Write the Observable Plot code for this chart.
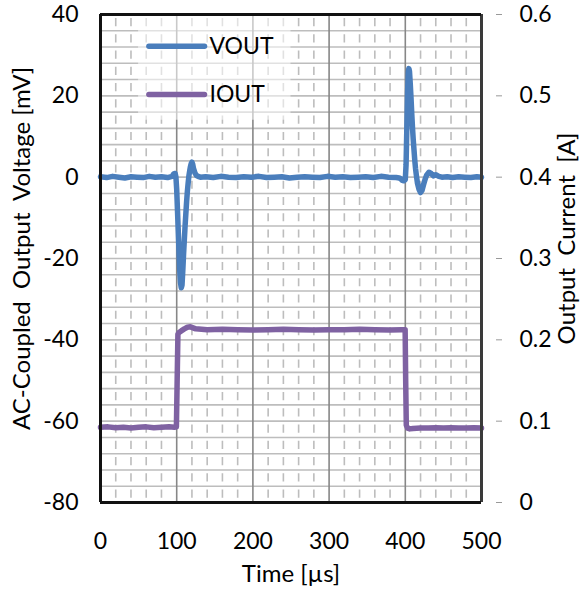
<!DOCTYPE html>
<html><head><meta charset="utf-8">
<script src="https://cdn.jsdelivr.net/npm/d3@7"></script>
<script src="https://cdn.jsdelivr.net/npm/@observablehq/plot@0.6"></script>
<style>body{margin:0;background:#fff;}</style>
</head><body><div id="chart"></div>
<script>
// ---- data ----
const voutTime = [0,8,16,24,32,40,48,56,64,72,80,88,94,
  96,98,99,100,101,102,103,104,105,106,107,108,109,110,111,112,113,114,115,116,117,118,119,120,121,122,124,126,128,131,
  138,148,158,168,178,188,198,208,218,228,238,248,258,268,278,288,298,308,318,328,338,348,358,368,378,388,392,
  394,396,398,400,401,402,403,404,404.7,405.5,406.5,407.5,408.5,409.5,410.5,411.5,412.5,413.5,414.5,416,418,420,422,424,426,428,431,434,437,440,444,448,
  455,462,470,478,486,494,500];
const voutMv = [0.1,-0.1,0.2,0,-0.2,0.1,0,-0.1,0.2,0,0.1,-0.1,0.2,
  0.8,0.9,0,-3,-8,-13,-18,-23,-26,-27.2,-26.5,-23,-19,-15.5,-12,-9,-6,-3.5,-1.5,0.3,1.5,2.6,3.3,3.7,3.2,2.2,1,0.4,0.2,0,
  0.1,-0.1,0.2,0,-0.1,0.1,0,0.2,-0.1,0,0.1,-0.2,0,0.1,0,-0.1,0.2,0,0.1,-0.1,0,0.1,-0.1,0.2,0,-0.1,-0.2,
  -0.4,-0.8,-0.9,-0.6,3,12,21,26,26.7,26,23,19.5,15.5,12,9,6.5,4,2,0.5,-1.5,-3,-3.8,-3.2,-1.8,-0.5,0.5,1.2,0.9,0.3,0.6,0.2,0,
  0.1,-0.1,0.1,0,-0.1,0.1,0];

const ioutTime = [0,10,20,30,40,50,60,70,80,90,97,99.6,100.6,101.6,103,106,110,114,118,125,
  140,160,180,200,220,240,260,280,300,320,340,360,380,395,399.8,400.5,401.3,403,406,410,420,430,440,450,460,470,480,490,500];
const ioutA = [0.0925,0.093,0.092,0.0925,0.0915,0.0925,0.093,0.092,0.0925,0.093,0.0925,0.093,0.15,0.207,0.209,0.211,0.2135,0.2155,0.216,0.2135,
  0.2125,0.213,0.2125,0.212,0.2125,0.213,0.2125,0.212,0.2125,0.2125,0.213,0.2125,0.212,0.2125,0.2125,0.15,0.095,0.0915,0.0905,0.091,0.0915,0.0915,0.092,0.0915,0.092,0.0915,0.0915,0.092,0.0915];

const xTicks = [0,100,200,300,400,500];
const yLeftTicks = [-80,-60,-40,-20,0,20,40];
const seriesNames = ["VOUT","IOUT"];
const seriesColors = ["#4a7ebc","#7f62a2"];

// right axis: current [A] maps onto left scale (mV): mV = A*200 - 80
const aToMv = a => a * 200 - 80;
const mvToA = mv => (mv + 80) / 200;

const vout = voutTime.map((t,i) => ({t, v: voutMv[i]}));
const iout = ioutTime.map((t,i) => ({t, v: aToMv(ioutA[i])}));

const hGrid = d3.range(-76, 40, 4);
const minorX = d3.range(20, 500, 20).filter(d => d % 100 !== 0);
const majorX = [100,200,300,400];

// legend layout (in data units of the plot)
const legend = seriesNames.map((name,i) => ({name, color: seriesColors[i], y: [32.2, 20.3][i]}));

const FS = 24, TFS = 23;
const chart = Plot.plot({
  width: 581, height: 598,
  marginLeft: 100, marginRight: 100, marginTop: 14, marginBottom: 96,
  style: {fontFamily: "Lato, 'Open Sans', sans-serif", fontSize: FS + "px", color: "#000", background: "#fff"},
  x: {domain: [0,500]},
  y: {domain: [-80,40]},
  marks: [
    Plot.ruleY(hGrid, {stroke: "#bdbdbd", strokeWidth: 1.6}),
    Plot.ruleX(minorX, {y1: 40, y2: -80, stroke: "#bdbdbd", strokeWidth: 1.6, strokeDasharray: "8.13 8.13", strokeDashoffset: 12.2}),
    Plot.ruleX(majorX, {y1: 40, y2: -80, stroke: "#878787", strokeWidth: 1.6}),
    Plot.rect([0], {x1: 50, x2: 250, y1: 14, y2: 40, fill: "#fff", fillOpacity: 0.55}),
    Plot.link(legend, {x1: 63.5, x2: 136.5, y1: "y", y2: "y", stroke: "color", strokeWidth: 5.5, strokeLinecap: "round"}),
    Plot.text(legend, {x: 143, y: "y", text: "name", textAnchor: "start", fontSize: 23, letterSpacing: "1px"}),
    Plot.line(iout, {x: "t", y: "v", stroke: seriesColors[1], strokeWidth: 5.5, strokeLinejoin: "round"}),
    Plot.line(vout, {x: "t", y: "v", stroke: seriesColors[0], strokeWidth: 5.5, strokeLinejoin: "round"}),
    Plot.ruleX([500], {y1: 40, y2: -80, stroke: "#3a3a3a", strokeWidth: 3}),
    Plot.ruleY([40], {x1: 0, x2: 500, stroke: "#111", strokeWidth: 3}),
    Plot.ruleX([0], {y1: 40, y2: -80, stroke: "#111", strokeWidth: 3}),
    Plot.ruleY([-80], {x1: 0, x2: 500, stroke: "#111", strokeWidth: 3}),
    Plot.axisY({anchor: "left", ticks: yLeftTicks, tickFormat: d => String(d), tickSize: 0, tickPadding: 22, fontSize: TFS, label: null}),
    Plot.axisY({anchor: "right", ticks: yLeftTicks, tickFormat: d => { const a = mvToA(d); return a === 0 ? "0" : a.toFixed(1); },
      tickSize: 6, stroke: "#999", tickPadding: 18, dx: 14, fontSize: TFS, label: null}),
    Plot.axisX({ticks: xTicks, tickFormat: d => String(d), tickSize: 0, tickPadding: 30, fontSize: TFS, label: null}),
    Plot.text(["AC-Coupled  Output  Voltage [mV]"], {frameAnchor: "left", textAnchor: "middle", dx: -78, dy: -10, rotate: -90, fontSize: FS, letterSpacing: "1.2px"}),
    Plot.text(["Output  Current  [A]"], {frameAnchor: "right", textAnchor: "middle", dx: 86, dy: -20, rotate: -90, fontSize: FS}),
    Plot.text(["Time [µs]"], {frameAnchor: "bottom", dy: 79, fontSize: FS, letterSpacing: "0.8px"})
  ]
});
document.getElementById("chart").append(chart);
</script>
</body></html>
